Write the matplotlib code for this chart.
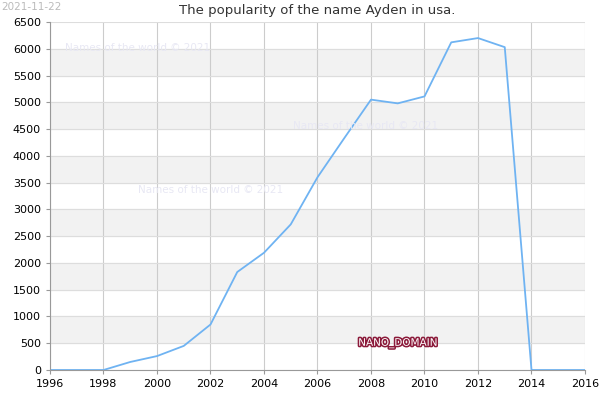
import matplotlib.pyplot as plt
import matplotlib.patheffects as pe

years = list(range(1996, 2017))
counts = [0, 0, 0, 150, 260, 450, 850, 1830, 2190, 2720, 3600, 4330, 5050, 4980, 5110,
          6120, 6200, 6030, 0, 0, 0]

fig = plt.figure(figsize=(6, 4), dpi=100)
ax = fig.add_axes([50/600, 30/400, 535/600, 348/400])

for lo in range(500, 6500, 1000):
    ax.axhspan(lo, lo + 500, color='#f2f2f2', zorder=0)
ax.grid(axis='y', color='#dddddd', lw=0.8)
ax.grid(axis='x', color='#cccccc', lw=0.8)
ax.set_axisbelow(True)

ax.plot(years, counts, color='#6fb3f2', lw=1.3)
ax.set_xlim(1996, 2016)
ax.set_ylim(0, 6500)
ax.set_xticks(range(1996, 2017, 2))
ax.set_yticks(range(0, 6501, 500))
ax.tick_params(labelsize=8, length=3, color='#999999')
for s in ax.spines.values():
    s.set_color('#999999')
ax.spines['top'].set_visible(False)
ax.spines['right'].set_visible(False)

ax.set_title('The popularity of the name Ayden in usa.', fontsize=9.5, color='#333333', pad=6)
fig.text(0.002, 0.995, '2021-11-22', fontsize=7.5, color='#bbbbbb', va='top')

for (x, y) in [(65/600, 48/400), (293/600, 126/400), (138/600, 190/400)]:
    fig.text(x, 1 - y, 'Names of the world \u00a9 2021', fontsize=7.5, color='#e8e8f4', va='center')

ax.text(2009, 500, 'NANO_DOMAIN', fontsize=7.5, color='white', ha='center', va='center',
        path_effects=[pe.withStroke(linewidth=2.2, foreground='#8b1a3a')])

fig.savefig('out.png')
